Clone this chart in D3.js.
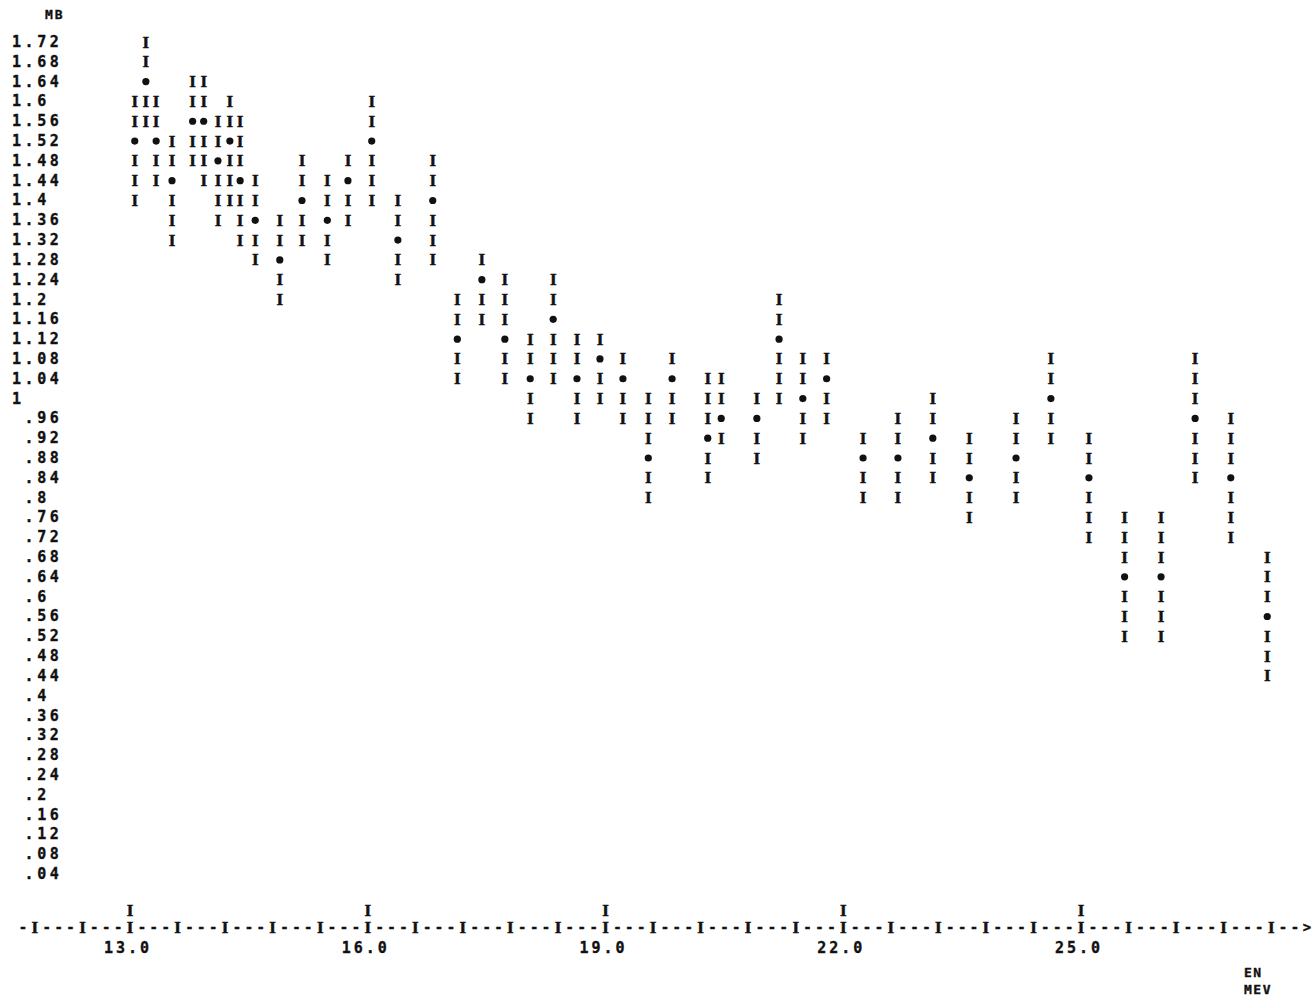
<!DOCTYPE html>
<html>
<head>
<meta charset="utf-8">
<script src="https://cdn.jsdelivr.net/npm/d3@7"></script>
<style>
  html, body { margin: 0; padding: 0; background: #fff; }
  svg { display: block; }
  .mono { font-family: "DejaVu Sans Mono", "Liberation Mono", monospace; font-weight: bold; fill: #111; stroke: #111; stroke-width: 0.35; }
  .bar  { font-family: "Liberation Serif", "DejaVu Serif", serif; font-weight: bold; fill: #111; stroke: #111; stroke-width: 0.5; }
</style>
</head>
<body>
<script>
// ---- data ----
const energy = [13.06, 13.20, 13.33, 13.53, 13.79, 13.93, 14.11, 14.26, 14.39, 14.58,
                14.89, 15.17, 15.49, 15.75, 16.05, 16.38, 16.82, 17.13, 17.44, 17.73,
                18.05, 18.34, 18.64, 18.93, 19.22, 19.54, 19.84, 20.29, 20.46, 20.91,
                21.19, 21.49, 21.79, 22.25, 22.69, 23.13, 23.59, 24.18, 24.62, 25.10,
                25.55, 26.01, 26.44, 26.89, 27.35];
const sigma  = [1.52, 1.64, 1.52, 1.44, 1.56, 1.56, 1.48, 1.52, 1.44, 1.36,
                1.28, 1.40, 1.36, 1.44, 1.52, 1.32, 1.40, 1.12, 1.24, 1.12,
                1.04, 1.16, 1.04, 1.08, 1.04, 0.88, 1.04, 0.92, 0.96, 0.96,
                1.12, 1.00, 1.04, 0.88, 0.88, 0.92, 0.84, 0.88, 1.00, 0.84,
                0.64, 0.64, 0.96, 0.84, 0.56];
const upper  = [1.60, 1.72, 1.60, 1.52, 1.64, 1.64, 1.56, 1.60, 1.56, 1.44,
                1.36, 1.48, 1.44, 1.48, 1.60, 1.40, 1.48, 1.20, 1.28, 1.24,
                1.12, 1.24, 1.12, 1.12, 1.08, 1.00, 1.08, 1.04, 1.04, 1.00,
                1.20, 1.08, 1.08, 0.92, 0.96, 1.00, 0.92, 0.96, 1.08, 0.92,
                0.76, 0.76, 1.08, 0.96, 0.68];
const lower  = [1.40, 1.56, 1.44, 1.32, 1.48, 1.44, 1.36, 1.40, 1.32, 1.28,
                1.20, 1.32, 1.28, 1.36, 1.40, 1.24, 1.28, 1.04, 1.16, 1.04,
                0.96, 1.04, 0.96, 1.00, 0.96, 0.80, 0.96, 0.84, 0.92, 0.88,
                1.00, 0.92, 0.96, 0.80, 0.80, 0.84, 0.76, 0.80, 0.92, 0.72,
                0.52, 0.52, 0.84, 0.72, 0.44];

const yTickLabels = ["1.72","1.68","1.64","1.6","1.56","1.52","1.48","1.44","1.4","1.36",
                     "1.32","1.28","1.24","1.2","1.16","1.12","1.08","1.04","1",".96",
                     ".92",".88",".84",".8",".76",".72",".68",".64",".6",".56",
                     ".52",".48",".44",".4",".36",".32",".28",".24",".2",".16",
                     ".12",".08",".04"];
const xTickLabels = ["13.0","16.0","19.0","22.0","25.0"];
const yUnit = "MB";
const xUnit = ["EN", "MEV"];

// ---- layout ----
const W = 1313, H = 1005;
const rowStep = 0.04;
const x = d3.scaleLinear().domain([13, 25]).range([130, 1081]);
const y = d3.scaleLinear().domain([0.04, 1.72]).range([874, 42]);

const svg = d3.select("body").append("svg").attr("width", W).attr("height", H);
svg.append("rect").attr("width", W).attr("height", H).attr("fill", "#fff");

// y unit
svg.append("text").attr("class", "mono").attr("x", 45).attr("y", 19)
  .attr("font-size", 13).attr("letter-spacing", 2).text(yUnit);

// y tick labels (left-aligned on a character grid)
const pitch = 12.6;
const fs = 15, adv = 0.602 * fs;
svg.append("g").selectAll("text").data(yTickLabels).join("text")
  .attr("class", "mono")
  .attr("font-size", fs)
  .attr("letter-spacing", pitch - adv)
  .attr("x", d => d.startsWith(".") ? 12 + pitch : 12)
  .attr("y", d => y(parseFloat(d)))
  .attr("dominant-baseline", "central")
  .text(d => d);

// data: error bars as columns of "I" with a centre mark
const pts = energy.map((e, i) => ({ e, c: sigma[i], hi: upper[i], lo: lower[i] }));
const cells = [];
pts.forEach(p => {
  const n = Math.round((p.hi - p.lo) / rowStep);
  for (let k = 0; k <= n; k++) {
    const v = +(p.hi - k * rowStep).toFixed(2);
    cells.push({ e: p.e, v, centre: Math.abs(v - p.c) < rowStep / 2 });
  }
});
const g = svg.append("g");
g.selectAll("text").data(cells.filter(d => !d.centre)).join("text")
  .attr("class", "bar")
  .attr("font-size", 17)
  .attr("text-anchor", "middle")
  .attr("dominant-baseline", "central")
  .attr("x", d => x(d.e))
  .attr("y", d => y(d.v))
  .text("I");
g.selectAll("circle").data(cells.filter(d => d.centre)).join("circle")
  .attr("cx", d => x(d.e))
  .attr("cy", d => y(d.v))
  .attr("r", 3.6)
  .attr("fill", "#111");

// x axis drawn as printer characters
const axisY = 927;
const minorStep = 0.6;
const axisTicks = d3.range(0, 27).map(k => +(11.8 + k * minorStep).toFixed(1));
const ax = svg.append("g");
ax.selectAll("text.tick").data(axisTicks).join("text")
  .attr("class", "bar tick")
  .attr("font-size", 17)
  .attr("text-anchor", "middle")
  .attr("dominant-baseline", "central")
  .attr("x", d => x(d)).attr("y", axisY)
  .text("I");
const dashes = [11.8 - minorStep / 4];
axisTicks.forEach(t => { dashes.push(t + minorStep / 4, t + minorStep / 2); });
axisTicks.slice(0, -1).forEach(t => dashes.push(t + 3 * minorStep / 4));
ax.selectAll("text.dash").data(dashes).join("text")
  .attr("class", "mono dash")
  .attr("font-size", 14)
  .attr("text-anchor", "middle")
  .attr("dominant-baseline", "central")
  .attr("x", d => x(d)).attr("y", axisY)
  .text("-");
ax.append("text").attr("class", "mono").attr("font-size", 14)
  .attr("text-anchor", "middle").attr("dominant-baseline", "central")
  .attr("x", x(27.4 + 3 * minorStep / 4)).attr("y", axisY).text(">");

// major ticks + labels
const majors = xTickLabels.map(s => parseFloat(s));
ax.selectAll("text.major").data(majors).join("text")
  .attr("class", "bar major")
  .attr("font-size", 17)
  .attr("text-anchor", "middle")
  .attr("dominant-baseline", "central")
  .attr("x", d => x(d)).attr("y", axisY - 17)
  .text("I");
ax.selectAll("text.lab").data(xTickLabels).join("text")
  .attr("class", "mono lab")
  .attr("font-size", 15)
  .attr("letter-spacing", 3)
  .attr("text-anchor", "middle")
  .attr("dominant-baseline", "central")
  .attr("x", d => x(parseFloat(d)) - 2)
  .attr("y", axisY + 21)
  .text(d => d);

// x unit
svg.selectAll("text.unit").data(xUnit).join("text")
  .attr("class", "mono unit")
  .attr("font-size", 13)
  .attr("letter-spacing", 1.5)
  .attr("x", 1244)
  .attr("y", (d, i) => 972 + i * 17)
  .attr("dominant-baseline", "central")
  .text(d => d);
</script>
</body>
</html>
